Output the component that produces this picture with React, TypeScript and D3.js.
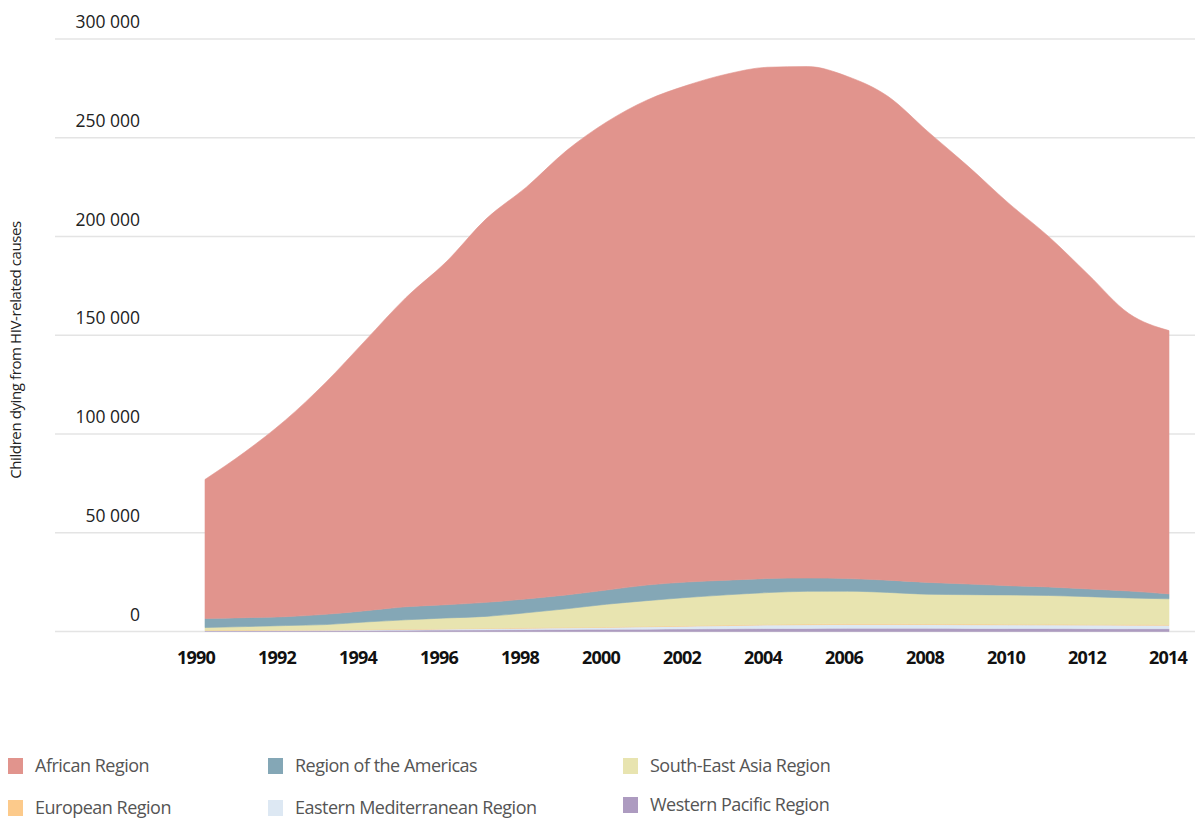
import React from "react";
import * as d3 from "d3";

const years = d3.range(1990, 2015);
const african = [70400, 84000, 99500, 117300, 137000, 156500, 173500, 194200, 208500, 225000, 237000, 245500, 251500, 256300, 258900, 259000, 254200, 245000, 228200, 211500, 193800, 177500, 159000, 140500, 133300];
const americas = [4600, 4500, 4500, 5200, 5700, 6600, 6700, 7100, 7000, 7000, 7200, 7900, 7800, 7400, 7100, 6700, 6400, 6200, 6000, 5400, 4700, 4300, 3900, 3500, 2500];
const southEastAsia = [1400, 1800, 2200, 2600, 3800, 4700, 5400, 6000, 7600, 9400, 11500, 13000, 14300, 15300, 16100, 16600, 16500, 15900, 15000, 14900, 14800, 14600, 14100, 13500, 13100];
const european = [100, 100, 100, 100, 120, 120, 150, 150, 180, 200, 200, 220, 250, 280, 300, 300, 300, 300, 300, 300, 300, 300, 300, 300, 300];
const easternMed = [200, 250, 300, 350, 400, 500, 600, 700, 800, 900, 1000, 1200, 1400, 1600, 1800, 1900, 2000, 2000, 1950, 1900, 1900, 1850, 1800, 1800, 1750];
const westernPacific = [300, 350, 400, 450, 500, 600, 700, 800, 900, 1000, 1100, 1200, 1300, 1400, 1500, 1550, 1600, 1600, 1600, 1550, 1500, 1500, 1450, 1400, 1400];

const seriesNames = ["African Region", "Region of the Americas", "South-East Asia Region", "European Region", "Eastern Mediterranean Region", "Western Pacific Region"];
const seriesValues = [african, americas, southEastAsia, european, easternMed, westernPacific];
const seriesColors = ["#e1948d", "#84a7b6", "#e8e4b0", "#fcca8b", "#dde8f3", "#ad9bc0"];
const yTicks = [0, 50000, 100000, 150000, 200000, 250000, 300000];
const xTicks = d3.range(1990, 2015, 2);
const yTitle = "Children dying from HIV-related causes";

const W = 1195, H = 818;

export default function App() {
  const x = d3.scaleLinear().domain([1990, 2014]).range([205, 1169]);
  const xLab = d3.scaleLinear().domain([1990, 2014]).range([196, 1168]);
  const y = d3.scaleLinear().domain([0, 300000]).range([631.5, 39]);

  const rows = years.map((yr, i) => {
    const r: any = { year: yr };
    seriesNames.forEach((n, k) => (r[n] = seriesValues[k][i]));
    return r;
  });
  const keys = [...seriesNames].reverse();
  const stacked = d3.stack().keys(keys)(rows);
  const area = d3
    .area<any>()
    .x((d) => x(d.data.year))
    .y0((d) => y(d[0]))
    .y1((d) => y(d[1]))
    .curve(d3.curveMonotoneX);

  const colorOf = (n: string) => seriesColors[seriesNames.indexOf(n)];
  const fmt = (v: number) => d3.format(",")(v).replace(/,/g, " ");

  const legendCols = [8, 268, 623];
  const legendRows = [766, 808];

  return (
    <svg width={W} height={H} style={{ position: "absolute", left: 0, top: 0 }} fontFamily="'Open Sans', sans-serif">
      <rect width={W} height={H} fill="#fff" />
      {yTicks.map((t) => (
        <g key={t}>
          <line x1={55} x2={1195} y1={y(t)} y2={y(t)} stroke="#e4e4e4" strokeWidth={1.5} />
          <text x={140} y={y(t) - 11} textAnchor="end" fontSize={17.5} fill="#222">
            {fmt(t)}
          </text>
        </g>
      ))}
      {stacked.map((s) => (
        <path key={s.key} d={area(s as any) || ""} fill={colorOf(s.key)} stroke={colorOf(s.key)} strokeWidth={0.6} />
      ))}
      {xTicks.map((t) => (
        <text key={t} x={xLab(t)} y={664} textAnchor="middle" fontSize={18} fontWeight="bold" fill="#111" letterSpacing={-0.8}>
          {t}
        </text>
      ))}
      <text transform={`translate(21,350) rotate(-90)`} textAnchor="middle" fontSize={15} fill="#222" letterSpacing={-0.4}>
        {yTitle}
      </text>
      {seriesNames.map((n, i) => {
        const col = i % 3;
        const row = Math.floor(i / 3);
        const cy = legendRows[row] - (row === 1 && col === 2 ? 3 : 0);
        return (
          <g key={n}>
            <rect x={legendCols[col]} y={cy - 8} width={15} height={16} fill={seriesColors[i]} />
            <text x={legendCols[col] + 27} y={cy + 6} fontSize={18} fill="#555" letterSpacing={-0.5}>
              {n}
            </text>
          </g>
        );
      })}
    </svg>
  );
}
